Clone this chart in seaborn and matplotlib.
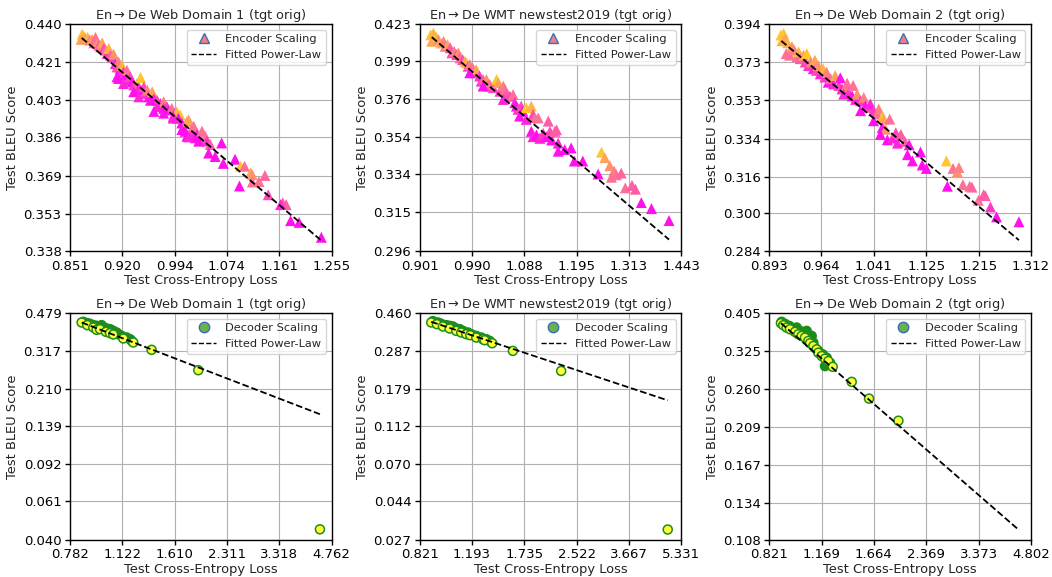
import numpy as np
import pandas as pd
import matplotlib
matplotlib.use("Agg")
import matplotlib.pyplot as plt
from matplotlib.colors import LinearSegmentedColormap
from matplotlib.lines import Line2D
from matplotlib.ticker import FixedLocator, FixedFormatter, NullLocator
import seaborn as sns

# ---------------- data ----------------
titles = ["En$\\rightarrow$De Web Domain 1 (tgt orig)",
          "En$\\rightarrow$De WMT newstest2019 (tgt orig)",
          "En$\\rightarrow$De Web Domain 2 (tgt orig)"]

# Encoder scaling, Web Domain 1
enc_wd1_loss = [0.8664, 0.8686, 0.8650, 0.8708, 0.8738, 0.8765, 0.8795, 0.8817, 0.8839, 0.8861,
                0.8883, 0.8905, 0.8927, 0.8949, 0.8971, 0.8993, 0.9015, 0.9037, 0.9059, 0.9081,
                0.9103, 0.9125, 0.9147, 0.9169, 0.9191, 0.9214, 0.9238, 0.9261, 0.9285, 0.9308,
                0.9332, 0.9355, 0.9403, 0.9450, 0.9426, 0.9474, 0.9497, 0.9521, 0.9544, 0.9568,
                0.9615, 0.9639, 0.9686, 0.9733, 0.9780, 0.9827, 0.9851, 0.9898, 0.9945, 0.9971,
                1.0022, 1.0047, 1.0073, 1.0098, 1.0124, 1.0149, 1.0175, 1.0200, 1.0226, 1.0277,
                1.0328, 1.0353, 1.0404, 1.0430, 1.0481, 1.0124, 1.0251, 1.0047, 1.0149, 1.0302,
                0.9996, 0.9920, 0.9125, 0.9147, 0.9214, 0.9355, 0.9426, 0.9591, 0.9686, 0.9780,
                0.9639, 0.9780, 0.9920, 1.0455, 1.0557, 1.0659, 1.0685, 1.0873, 1.0962, 1.1028,
                1.1128, 1.1156, 1.1156, 1.1267, 1.1366, 1.0945, 1.1422, 1.1670, 1.1730, 1.1634,
                1.1808, 1.1958, 1.2359]
enc_wd1_bleu = [0.4350, 0.4340, 0.4323, 0.4328, 0.4333, 0.4320, 0.4323, 0.4306, 0.4333, 0.4303,
                0.4294, 0.4286, 0.4306, 0.4278, 0.4269, 0.4253, 0.4278, 0.4244, 0.4236, 0.4249,
                0.4203, 0.4187, 0.4211, 0.4179, 0.4195, 0.4163, 0.4147, 0.4171, 0.4123, 0.4139,
                0.4115, 0.4100, 0.4107, 0.4136, 0.4084, 0.4076, 0.4092, 0.4060, 0.4076, 0.4044,
                0.4068, 0.4036, 0.4028, 0.4013, 0.4021, 0.3998, 0.3983, 0.3990, 0.3968, 0.3975,
                0.3960, 0.3923, 0.3900, 0.3885, 0.3930, 0.3938, 0.3878, 0.3893, 0.3908, 0.3871,
                0.3848, 0.3886, 0.3863, 0.3841, 0.3826, 0.3863, 0.3856, 0.3893, 0.3860, 0.3841,
                0.3945, 0.3953, 0.4139, 0.4131, 0.4107, 0.4068, 0.4044, 0.4028, 0.3998, 0.3990,
                0.3976, 0.3968, 0.3945, 0.3788, 0.3773, 0.3833, 0.3743, 0.3761, 0.3731, 0.3731,
                0.3703, 0.3694, 0.3663, 0.3665, 0.3691, 0.3646, 0.3609, 0.3576, 0.3568, 0.3568,
                0.3502, 0.3495, 0.3435]
enc_wd1_size = [1.0, 0.9, 0.8, 0.7, 0.9, 0.6, 0.8, 0.5, 0.5, 0.7,
                0.4, 0.6, 0.8, 0.3, 0.5, 0.2, 0.9, 0.4, 0.2, 0.7,
                0.1, 0.3, 0.6, 0.1, 0.9, 0.2, 0.0, 0.5, 0.1, 0.3,
                0.0, 0.2, 0.4, 1.0, 0.1, 0.0, 0.3, 0.2, 0.6, 0.0,
                0.8, 0.1, 0.3, 0.1, 0.6, 0.2, 0.0, 0.5, 0.1, 0.9,
                1.0, 0.0, 0.1, 0.0, 0.7, 0.8, 0.1, 0.2, 0.5, 0.1,
                0.3, 0.5, 0.5, 0.2, 0.4, 0.0, 0.0, 0.0, 0.1, 0.0,
                0.0, 0.1, 0.0, 0.0, 0.1, 0.0, 0.1, 0.0, 0.1, 0.0,
                0.0, 0.0, 0.1, 0.0, 0.0, 0.0, 0.0, 0.0, 1.0, 0.5,
                0.8, 0.7, 0.5, 0.5, 0.45, 0.0, 0.3, 0.4, 0.4, 0.1,
                0.0, 0.0, 0.0]

# Encoder scaling, WMT newstest2019
enc_wmt_loss = [0.9191, 0.9237, 0.9208, 0.9282, 0.9322, 0.9362, 0.9407, 0.9435, 0.9475, 0.9520,
                0.9549, 0.9588, 0.9634, 0.9662, 0.9690, 0.9736, 0.9775, 0.9804, 0.9832, 0.9861,
                0.9889, 0.9912, 0.9944, 0.9975, 1.0037, 1.0068, 1.0100, 1.0162, 1.0193, 1.0224,
                1.0287, 1.0349, 1.0380, 1.0412, 1.0474, 1.0505, 1.0536, 1.0599, 1.0661, 1.0692,
                1.0724, 1.0755, 1.0818, 1.0849, 1.0914, 1.1016, 1.1051, 1.1085, 1.1153, 1.1016,
                1.1051, 1.1119, 1.1187, 1.1255, 1.1323, 1.1357, 1.1392, 1.1426, 1.1494, 1.1528,
                1.1562, 1.0786, 1.0914, 0.9861, 1.0100, 1.0474,
                1.1562, 1.1699, 1.1835, 1.1903, 1.2085, 1.2424, 1.2499, 1.2574, 1.2687, 1.2785,
                1.2725, 1.2838, 1.2951, 1.3047, 1.3205, 1.3287, 1.3428, 1.3676, 1.4115]
enc_wmt_bleu = [0.4160, 0.4171, 0.4118, 0.4145, 0.4128, 0.4107, 0.4118, 0.4086, 0.4097, 0.4076,
                0.4044, 0.4054, 0.4033, 0.4044, 0.4012, 0.4001, 0.3990, 0.3980, 0.3960, 0.3970,
                0.3929, 0.3949, 0.3919, 0.3939, 0.3899, 0.3868, 0.3878, 0.3878, 0.3838, 0.3848,
                0.3828, 0.3878, 0.3858, 0.3807, 0.3838, 0.3818, 0.3787, 0.3777, 0.3787, 0.3739,
                0.3719, 0.3700, 0.3719, 0.3690, 0.3710, 0.3719, 0.3671, 0.3651, 0.3651, 0.3574,
                0.3544, 0.3554, 0.3535, 0.3563, 0.3544, 0.3632, 0.3574, 0.3526, 0.3574, 0.3583,
                0.3508, 0.3661, 0.3642, 0.3919, 0.3838, 0.3758,
                0.3464, 0.3473, 0.3482, 0.3411, 0.3411, 0.3342, 0.3459, 0.3429, 0.3386, 0.3358,
                0.3325, 0.3338, 0.3347, 0.3270, 0.3283, 0.3263, 0.3195, 0.3165, 0.3106]
enc_wmt_size = [1.0, 0.9, 0.8, 0.9, 0.7, 0.9, 0.6, 0.5, 0.8, 0.4,
                0.3, 0.6, 0.2, 0.7, 0.5, 0.3, 0.8, 0.9, 0.2, 0.6,
                0.1, 0.5, 0.3, 0.8, 0.2, 0.1, 0.4, 0.7, 0.2, 0.5,
                0.3, 1.0, 0.8, 0.2, 0.6, 0.5, 0.4, 0.3, 0.5, 0.1,
                0.0, 0.2, 0.3, 0.0, 1.0, 0.9, 0.3, 0.5, 0.5, 0.0,
                0.1, 0.0, 0.1, 0.2, 0.0, 0.4, 0.3, 0.0, 0.4, 0.4,
                0.1, 0.0, 0.1, 0.0, 0.0, 0.1,
                0.0, 0.0, 0.0, 0.0, 0.0, 0.0, 1.0, 0.8, 0.7, 0.6,
                0.5, 0.5, 0.45, 0.5, 0.4, 0.4, 0.0, 0.0, 0.0]

# Encoder scaling, Web Domain 2
enc_wd2_loss = [0.9084, 0.9120, 0.9097, 0.9142, 0.9174, 0.9156, 0.9201, 0.9233, 0.9264, 0.9301,
                0.9323, 0.9346, 0.9391, 0.9414, 0.9436, 0.9459, 0.9490, 0.9527, 0.9549, 0.9572,
                0.9594, 0.9626, 0.9665, 0.9690, 0.9715, 0.9739, 0.9774, 0.9814, 0.9839, 0.9889,
                0.9913, 0.9938, 0.9988, 1.0013, 1.0038, 1.0102, 1.0087, 1.0137, 1.0162, 1.0212,
                1.0261, 1.0286, 1.0336, 1.0361, 1.0410, 1.0463, 1.0490, 1.0543, 1.0570, 1.0660,
                1.0543, 1.0596, 1.0516, 1.0623, 1.0703, 1.0756, 1.0836, 1.0899, 1.0969, 1.0782,
                1.0410, 1.0212, 0.9963,
                1.0942, 1.1022, 1.1154, 1.1181, 1.1250, 1.1586, 1.1603, 1.1700, 1.1774, 1.1802,
                1.1871, 1.1990, 1.2030, 1.2144, 1.2237, 1.2268, 1.2361, 1.2473, 1.2890]
enc_wd2_bleu = [0.3879, 0.3888, 0.3847, 0.3860, 0.3836, 0.3777, 0.3768, 0.3814, 0.3796, 0.3759,
                0.3786, 0.3749, 0.3768, 0.3731, 0.3777, 0.3712, 0.3730, 0.3695, 0.3741, 0.3686,
                0.3712, 0.3668, 0.3695, 0.3651, 0.3677, 0.3624, 0.3642, 0.3615, 0.3659, 0.3607,
                0.3647, 0.3589, 0.3598, 0.3619, 0.3571, 0.3607, 0.3553, 0.3535, 0.3562, 0.3528,
                0.3545, 0.3503, 0.3495, 0.3512, 0.3478, 0.3461, 0.3486, 0.3445, 0.3436, 0.3436,
                0.3394, 0.3386, 0.3361, 0.3335, 0.3343, 0.3369, 0.3361, 0.3327, 0.3311, 0.3319,
                0.3428, 0.3478, 0.3562,
                0.3264, 0.3235, 0.3277, 0.3216, 0.3200, 0.3235, 0.3119, 0.3200, 0.3185, 0.3204,
                0.3126, 0.3119, 0.3115, 0.3056, 0.3081, 0.3077, 0.3027, 0.2984, 0.2963]
enc_wd2_size = [1.0, 1.0, 0.9, 0.8, 0.9, 0.5, 0.5, 0.7, 0.6, 0.5,
                0.9, 0.4, 0.8, 0.3, 1.0, 0.2, 0.6, 0.1, 0.8, 0.3,
                0.7, 0.1, 0.9, 0.2, 0.6, 0.0, 0.5, 0.1, 0.8, 0.3,
                0.0, 0.1, 0.6, 0.5, 0.2, 0.5, 0.0, 0.1, 0.7, 0.2,
                0.6, 0.0, 0.3, 0.1, 0.2, 0.5, 0.6, 1.0, 0.8, 0.5,
                0.0, 0.7, 0.0, 0.0, 0.1, 0.3, 0.4, 0.4, 0.0, 0.1,
                0.0, 0.0, 0.1,
                0.0, 0.0, 0.0, 0.0, 0.0, 1.0, 0.0, 0.5, 0.7, 0.6,
                0.5, 0.5, 0.45, 0.5, 0.4, 0.4, 0.2, 0.0, 0.0]

# Decoder scaling, Web Domain 1
dec_wd1_loss = [0.8574, 0.8814, 0.8977, 0.9186, 0.9400, 0.9619, 0.9730, 0.9888, 1.0072, 1.0307,
                1.0546, 1.0792, 1.0917, 1.1171, 1.1563, 1.1832, 1.1969,
                0.8476, 0.8814, 0.9186, 0.9400, 0.9619, 1.0026, 1.0307, 1.0546, 1.1300, 1.2108,
                1.3740, 1.8961, 4.3910]
dec_wd1_bleu = [0.4356, 0.4293, 0.4262, 0.4200, 0.4170, 0.4140, 0.4200, 0.4094, 0.4050, 0.4020,
                0.3948, 0.3876, 0.3806, 0.3737, 0.3670, 0.3603, 0.3538,
                0.4324, 0.4200, 0.4094, 0.3991, 0.4020, 0.3904, 0.3848, 0.3792, 0.3630, 0.3474,
                0.3206, 0.2566, 0.0450]
dec_wd1_size = [0.0] * 17 + [1.0] * 13

# Decoder scaling, WMT newstest2019
dec_wmt_loss = [0.9030, 0.9359, 0.9584, 0.9932, 1.0172, 1.0417, 1.0668, 1.0925, 1.1189, 1.1595,
                1.1875, 1.2307, 1.2754, 1.3217, 1.3536,
                0.8923, 0.9292, 0.9699, 1.0172, 1.0668, 1.1056, 1.1458, 1.1790, 1.2307, 1.2907,
                1.3061, 1.3797, 1.5991, 2.2584, 4.8380]
dec_wmt_bleu = [0.4162, 0.4093, 0.4025, 0.3958, 0.3925, 0.3893, 0.3796, 0.3765, 0.3687, 0.3611,
                0.3536, 0.3463, 0.3392, 0.3321, 0.3253,
                0.4093, 0.4008, 0.3893, 0.3796, 0.3687, 0.3611, 0.3536, 0.3492, 0.3392, 0.3321,
                0.3280, 0.3159, 0.2870, 0.2234, 0.0308]
dec_wmt_size = [0.0] * 15 + [1.0] * 15

# Decoder scaling, Web Domain 2
dec_wd2_loss = [0.8924, 0.9127, 0.9399, 0.9656, 0.9876, 1.0101, 1.0331, 1.0566, 1.0808, 1.1054,
                1.1179, 1.1433, 1.1773, 1.2096, 1.2371, 1.1961, 1.0566, 1.0929,
                0.8884, 0.9025, 0.9230, 0.9441, 0.9766, 0.9988, 1.0215, 1.0448, 1.0686, 1.0808,
                1.1054, 1.1305, 1.1433, 1.1694, 1.1961, 1.2233, 1.2597, 1.4322, 1.6102, 1.9633]
dec_wd2_bleu = [0.3850, 0.3805, 0.3760, 0.3688, 0.3724, 0.3652, 0.3581, 0.3547, 0.3478, 0.3411,
                0.3312, 0.3248, 0.3186, 0.3124, 0.3033, 0.2975, 0.3652, 0.3547,
                0.3820, 0.3775, 0.3724, 0.3688, 0.3631, 0.3581, 0.3547, 0.3512, 0.3444, 0.3398,
                0.3345, 0.3280, 0.3216, 0.3155, 0.3106, 0.3063, 0.2963, 0.2714, 0.2462, 0.2164]
dec_wd2_size = [0.0] * 18 + [1.0] * 20

# fitted power laws: bleu = a * loss ** b, drawn over [start, end]
fit_a = [0.3937, 0.3898, 0.3556, 0.3909, 0.3863, 0.3495]
fit_b = [-0.662, -0.746, -0.823, -0.610, -0.5805, -0.750]
fit_start = [0.866, 0.921, 0.909, 0.848, 0.892, 0.888]
fit_end = [1.236, 1.4115, 1.289, 4.391, 4.838, 4.419]

# tick labels (axes are log-log)
xtick_labels = [
    ["0.851", "0.920", "0.994", "1.074", "1.161", "1.255"],
    ["0.901", "0.990", "1.088", "1.195", "1.313", "1.443"],
    ["0.893", "0.964", "1.041", "1.125", "1.215", "1.312"],
    ["0.782", "1.122", "1.610", "2.311", "3.318", "4.762"],
    ["0.821", "1.193", "1.735", "2.522", "3.667", "5.331"],
    ["0.821", "1.169", "1.664", "2.369", "3.373", "4.802"],
]
ytick_labels = [
    ["0.338", "0.353", "0.369", "0.386", "0.403", "0.421", "0.440"],
    ["0.296", "0.315", "0.334", "0.354", "0.376", "0.399", "0.423"],
    ["0.284", "0.300", "0.316", "0.334", "0.353", "0.373", "0.394"],
    ["0.040", "0.061", "0.092", "0.139", "0.210", "0.317", "0.479"],
    ["0.027", "0.044", "0.070", "0.112", "0.179", "0.287", "0.460"],
    ["0.108", "0.134", "0.167", "0.209", "0.260", "0.325", "0.405"],
]

# ---------------- style ----------------
sns.set_theme(style="ticks")
plt.rcParams["font.family"] = ["DejaVu Sans"]
plt.rcParams["axes.edgecolor"] = "black"
plt.rcParams["axes.linewidth"] = 1.0
plt.rcParams["xtick.color"] = "black"
plt.rcParams["ytick.color"] = "black"
plt.rcParams["axes.labelcolor"] = "#222222"

enc_cmap = LinearSegmentedColormap.from_list("enc", ["#ff10ec", "#ff6f96", "#ffc62e"])
dec_cmap = LinearSegmentedColormap.from_list("dec", ["#1d8a1d", "#ffff3a"])

fig, axes = plt.subplots(2, 3, figsize=(10.52, 5.77), dpi=100)
fig.subplots_adjust(left=0.0665, right=0.980, top=0.958, bottom=0.064,
                    wspace=0.336, hspace=0.273)

panels = [
    (enc_wd1_loss, enc_wd1_bleu, enc_wd1_size, "enc"),
    (enc_wmt_loss, enc_wmt_bleu, enc_wmt_size, "enc"),
    (enc_wd2_loss, enc_wd2_bleu, enc_wd2_size, "enc"),
    (dec_wd1_loss, dec_wd1_bleu, dec_wd1_size, "dec"),
    (dec_wmt_loss, dec_wmt_bleu, dec_wmt_size, "dec"),
    (dec_wd2_loss, dec_wd2_bleu, dec_wd2_size, "dec"),
]

for i, (ax, (loss, bleu, size, kind)) in enumerate(zip(axes.flat, panels)):
    df = pd.DataFrame({"loss": loss, "bleu": bleu, "size": size})
    ax.set_xscale("log")
    ax.set_yscale("log")
    if kind == "enc":
        sns.scatterplot(data=df, x="loss", y="bleu", hue="size", palette=enc_cmap,
                        hue_norm=(0, 1), marker="^", s=62, linewidth=0,
                        legend=False, ax=ax, zorder=2)
    else:
        sns.scatterplot(data=df, x="loss", y="bleu", hue="size", palette=dec_cmap,
                        hue_norm=(0, 1), marker="o", s=42, edgecolor="#1e8c1e",
                        linewidth=1.1, legend=False, ax=ax, zorder=2)
    fx = np.geomspace(fit_start[i], fit_end[i], 50)
    fy = fit_a[i] * fx ** fit_b[i]
    sns.lineplot(x=fx, y=fy, color="black", linestyle="--", linewidth=1.3,
                 ax=ax, zorder=3, sort=False)

    xt = [float(v) for v in xtick_labels[i]]
    yt = [float(v) for v in ytick_labels[i]]
    ax.set_xlim(xt[0], xt[-1])
    ax.set_ylim(yt[0], yt[-1])
    ax.xaxis.set_major_locator(FixedLocator(xt))
    ax.xaxis.set_major_formatter(FixedFormatter(xtick_labels[i]))
    ax.yaxis.set_major_locator(FixedLocator(yt))
    ax.yaxis.set_major_formatter(FixedFormatter(ytick_labels[i]))
    ax.xaxis.set_minor_locator(NullLocator())
    ax.yaxis.set_minor_locator(NullLocator())
    ax.tick_params(axis="both", labelsize=9.5, length=3.5, width=1, pad=2.5)
    ax.grid(True, color="#b0b0b0", linewidth=0.8)
    ax.set_axisbelow(True)
    for sp in ax.spines.values():
        sp.set_visible(True)
        sp.set_color("black")

    ax.set_title(titles[i % 3], fontsize=9.3, pad=4)
    ax.set_xlabel("Test Cross-Entropy Loss", fontsize=9.4, labelpad=1)
    ax.set_ylabel("Test BLEU Score", fontsize=9.4, labelpad=3)

    if kind == "enc":
        h1 = Line2D([], [], marker="^", linestyle="none", markersize=7.5,
                    markerfacecolor="#f08080", markeredgecolor="#3a6fb5", markeredgewidth=1.0)
        lab = "Encoder Scaling"
    else:
        h1 = Line2D([], [], marker="o", linestyle="none", markersize=7.5,
                    markerfacecolor="#6ab04c", markeredgecolor="#3a6fb5", markeredgewidth=1.0)
        lab = "Decoder Scaling"
    h2 = Line2D([], [], color="black", linestyle="--", linewidth=1.0)
    leg = ax.legend([h1, h2], [lab, "Fitted Power-Law"], loc="upper right",
                    fontsize=8.2, frameon=True, fancybox=True, framealpha=0.8,
                    borderpad=0.4, handlelength=2.2, labelspacing=0.5)
    leg.get_frame().set_edgecolor("#cccccc")

fig.savefig("out.png", dpi=100)
